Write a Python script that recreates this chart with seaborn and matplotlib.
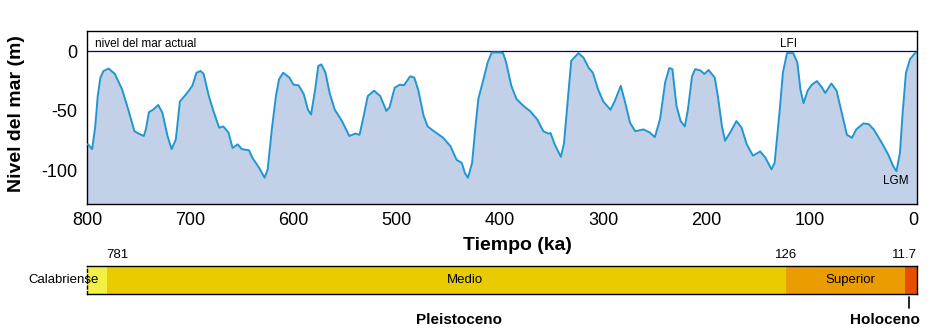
import numpy as np
import pandas as pd
import matplotlib
matplotlib.use("Agg")
import matplotlib.pyplot as plt
import seaborn as sns

# ---------------- data ----------------
tiempo_ka = [800, 799, 795, 792, 789.6, 787, 784, 779, 773, 766, 760, 754, 750, 745, 743, 740,
             736, 731, 727, 722, 718, 714, 710, 704, 698, 694, 690, 687, 682, 677, 672, 668,
             663, 659, 654, 650, 643, 640, 633, 628, 625, 621, 617, 614, 610, 604, 600, 595,
             590, 586, 583, 579, 576, 573, 569, 565, 560, 553, 546, 540, 536, 532, 528, 522,
             516, 510, 507, 502, 497, 493, 487, 483, 479, 474, 470, 464, 455, 448, 442, 437,
             434, 431, 427, 424, 421, 416, 412, 408, 400, 397, 394, 389, 384, 377, 371, 364,
             358, 353, 351, 347, 341, 338, 334, 331, 324, 319, 314, 310, 305, 300, 293, 289,
             283, 279, 274, 269, 261, 255, 250, 245, 240, 236, 233, 229, 225, 221, 218, 214,
             211, 206, 202, 198, 192, 189, 185, 182, 177, 171, 166, 161, 155, 148, 143, 137,
             134, 129, 126, 122, 116, 112, 109, 106, 102, 98, 93, 88, 85, 79, 74, 69,
             64, 59, 55, 48, 43, 38, 30, 24, 19, 16, 12.6, 10, 6.8, 2.9, -2, -4]
nivel_m = [-78, -78, -82, -63, -37.5, -22, -16.5, -14.5, -19, -32, -49, -67, -69, -71, -65.5, -51,
           -49, -45, -51.5, -71, -82, -74, -42, -36, -29, -18, -16.5, -19, -37.5, -51.5, -64, -63,
           -68, -81, -78, -82, -83, -89, -98, -106, -99, -65.5, -37.5, -23.5, -18, -22, -28, -28.5,
           -36, -49, -53, -32, -12.3, -11, -18, -35, -49, -58.5, -71, -69, -70, -54, -37.5, -33,
           -37.5, -50, -47, -30.5, -28, -28.5, -21, -22, -33, -54, -63, -67, -72.5, -79.5, -91, -93.5,
           -102, -106, -93.5, -65.5, -40, -23.5, -9.5, -1, -1, -1.5, -9.5, -29, -40, -46, -50, -57,
           -67, -69, -68.5, -78, -88.5, -77, -37.5, -8, -1.5, -5.5, -14, -18, -32, -42, -49, -42,
           -29, -42, -60, -67, -65.5, -68, -72, -57, -26, -14, -15, -46, -58.5, -63, -49, -21,
           -15, -16, -19, -15.7, -22, -37.5, -63, -75, -68, -58.5, -64, -78, -87.5, -84, -89, -99,
           -93.5, -49, -18, -1.5, -1.5, -9.5, -32, -43.5, -33, -28, -25, -30.5, -35, -27, -33, -51.5,
           -70, -72.5, -65.5, -60.5, -61, -65.5, -77, -86.5, -96.5, -100.5, -85, -51.5, -18, -6.7, -1.5, -1]

x_ticks = [800, 700, 600, 500, 400, 300, 200, 100, 0]
y_ticks = [0, -50, -100]

etapas = ["Calabriense", "Medio", "Superior", "Holoceno"]
etapa_inicio = [800, 781, 126, 11.7]
etapa_fin = [781, 126, 11.7, 0]
etapa_colores = ["#f2ef45", "#e9cc00", "#eb9c00", "#e84e00"]
limites = ["781", "126", "11.7"]

# ---------------- style ----------------
sns.set_style("white")
plt.rcParams["font.family"] = ["Liberation Sans", "DejaVu Sans"]
plt.rcParams["text.color"] = "black"
plt.rcParams["axes.labelcolor"] = "black"
plt.rcParams["xtick.color"] = "black"
plt.rcParams["ytick.color"] = "black"

W, H = 932, 333
fig = plt.figure(figsize=(W / 100, H / 100), dpi=100)

def fx(px):
    return px / W

def fy(py):
    return 1 - py / H

# ---------------- main axes ----------------
ax = fig.add_axes([fx(87), fy(204), fx(917) - fx(87), fy(31) - fy(204)])
df = pd.DataFrame({"ka": tiempo_ka, "nivel": nivel_m})
ymin, ymax = -128, 17
ax.fill_between(df["ka"], df["nivel"], ymin, color="#c2d1e8", lw=0, zorder=1)
sns.lineplot(data=df, x="ka", y="nivel", ax=ax, color="#2196cf", lw=1.4,
             estimator=None, sort=False, zorder=3)
ax.axhline(0, color="#000080", lw=0.9, zorder=2)
ax.set_xlim(800, -3.9)
ax.set_ylim(ymin, ymax)
ax.set_xticks(x_ticks)
ax.set_xticklabels([str(t) for t in x_ticks])
ax.set_yticks(y_ticks)
ax.set_yticklabels([str(t) for t in y_ticks])
ax.tick_params(axis="both", length=0, labelsize=13, colors="black")
ax.tick_params(axis="x", pad=6)
ax.tick_params(axis="y", pad=7)
for s in ax.spines.values():
    s.set_color("black")
    s.set_linewidth(1.0)
ax.set_xlabel("")
ax.set_ylabel("")

ax.text(792, 6.5, "nivel del mar actual", fontsize=8.5, ha="left", va="center")
ax.text(121, 6.5, "LFI", fontsize=8.5, ha="center", va="center")
ax.text(17, -109, "LGM", fontsize=8.5, ha="center", va="center")

fig.text(fx(17), fy(114), "Nivel del mar (m)", rotation=90, fontsize=14,
         fontweight="bold", ha="center", va="center")
fig.text(fx(517), fy(246), "Tiempo (ka)", fontsize=14, fontweight="bold",
         ha="center", va="center")

# ---------------- timeline axes ----------------
ax2 = fig.add_axes([fx(87), fy(294), fx(917) - fx(87), fy(266) - fy(294)])
for ini, fin, col in zip(etapa_inicio, etapa_fin, etapa_colores):
    ax2.barh(0, ini - fin, left=fin, height=1, color=col, lw=0)
ax2.set_xlim(800, 0)
ax2.set_ylim(-0.5, 0.5)
ax2.set_xticks([])
ax2.set_yticks([])
for s in ax2.spines.values():
    s.set_color("black")
    s.set_linewidth(1.0)
ax2.spines["left"].set_linestyle((0, (2, 2)))

ax2.text(781, 0.88, limites[0], fontsize=9.5, ha="left", va="center")
ax2.text(126, 0.88, limites[1], fontsize=9.5, ha="center", va="center")
ax2.text(11.7, 0.88, limites[2], fontsize=9.5, ha="center", va="center")

fig.text(fx(64), fy(280), etapas[0], fontsize=9.5, ha="center", va="center")
fig.text(fx(465), fy(280), etapas[1], fontsize=9.5, ha="center", va="center")
fig.text(fx(850), fy(280), etapas[2], fontsize=9.5, ha="center", va="center")

fig.text(fx(459), fy(320), "Pleistoceno", fontsize=11, fontweight="bold",
         ha="center", va="center")
fig.text(fx(885), fy(320), etapas[3], fontsize=11, fontweight="bold",
         ha="center", va="center")
fig.add_artist(plt.Line2D([fx(909), fx(909)], [fy(297), fy(308)], color="black", lw=1.2))

fig.savefig("out.png", dpi=100, facecolor="white")
